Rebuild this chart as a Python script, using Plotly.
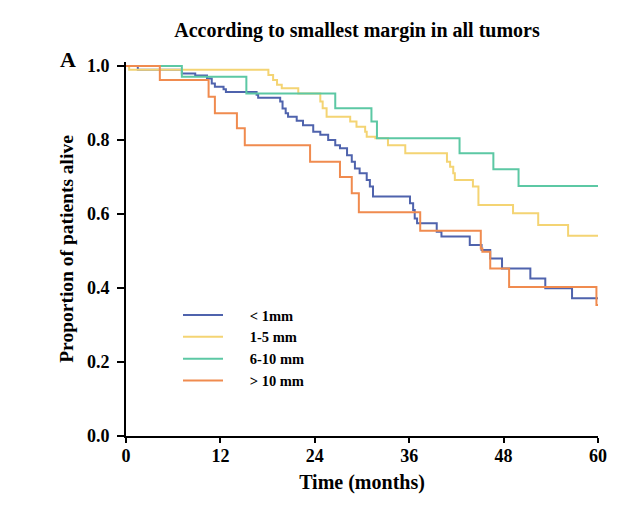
import plotly.graph_objects as go

# ---- data ----
lt1_t = [0, 1.5, 7.1, 8.8, 10.3, 10.9, 11.3, 12.4, 12.7, 16.6, 16.8, 19.6, 19.9, 20.3, 20.6,
         21.7, 22.5, 23.8, 24.7, 25.7, 26.6, 27.2, 28.1, 28.7, 29.1, 29.7, 30.6, 31.0, 31.4,
         36.1, 36.5, 36.7, 37.0, 39.5, 40.1, 43.7, 45.2, 46.3, 47.8, 51.4, 53.3, 56.7, 60]
lt1_s = [1.0, 0.99, 0.98, 0.974, 0.966, 0.953, 0.944, 0.937, 0.93, 0.922, 0.914, 0.904, 0.885, 0.872, 0.863,
         0.852, 0.84, 0.822, 0.814, 0.80, 0.786, 0.778, 0.759, 0.741, 0.723, 0.71, 0.692, 0.674, 0.647,
         0.629, 0.611, 0.588, 0.575, 0.552, 0.539, 0.516, 0.503, 0.48, 0.453, 0.426, 0.399, 0.372, 0.372]

m15_t = [0, 0.4, 18.1, 18.7, 19.2, 19.8, 21.9, 24.7, 25.0, 25.5, 28.5, 29.3, 30.4, 30.6, 31.7,
         33.3, 35.5, 40.8, 41.2, 41.6, 41.8, 44.1, 44.8, 49.2, 52.4, 56.2, 60]
m15_s = [1.0, 0.99, 0.976, 0.962, 0.949, 0.94, 0.926, 0.904, 0.886, 0.863, 0.85, 0.836, 0.822, 0.809, 0.805,
         0.786, 0.764, 0.741, 0.728, 0.71, 0.692, 0.674, 0.624, 0.602, 0.57, 0.541, 0.541]

m610_t = [0, 7.1, 15.3, 26.6, 31.2, 31.9, 42.4, 46.7, 49.9, 60]
m610_s = [1.0, 0.971, 0.926, 0.886, 0.85, 0.805, 0.764, 0.721, 0.676, 0.676]

gt10_t = [0, 4.3, 10.5, 11.3, 14.1, 15.1, 23.4, 27.2, 28.7, 29.6, 37.4, 45.1, 45.3, 46.3, 48.7, 59.8, 60]
gt10_s = [1.0, 0.962, 0.917, 0.872, 0.832, 0.786, 0.741, 0.70, 0.656, 0.605, 0.555, 0.507, 0.498, 0.453, 0.403, 0.354, 0.354]

series_names = ["< 1mm", "1-5 mm", "6-10 mm", "> 10 mm"]
series_colors = ["#4f63ad", "#f4d473", "#5cc8a4", "#f08b4f"]

x_ticks = [0, 12, 24, 36, 48, 60]
y_ticks = [0.0, 0.2, 0.4, 0.6, 0.8, 1.0]
y_ticklabels = ["0.0", "0.2", "0.4", "0.6", "0.8", "1.0"]

FONT = "Liberation Serif, Times New Roman, serif"
PAD = "\u00a0" * 6  # spacing between legend line sample and its label

fig = go.Figure()
for t, s, name, col in zip([lt1_t, m15_t, m610_t, gt10_t],
                           [lt1_s, m15_s, m610_s, gt10_s],
                           series_names, series_colors):
    fig.add_trace(go.Scatter(x=t, y=s, mode="lines", name=PAD + name,
                             line=dict(color=col, width=2, shape="hv")))

# page has an 8px body margin: figure occupies page pixels 8..640 x 8..513
OFF = 8
W, H = 640 - OFF, 513 - OFF
ml, mr, mt = 126 - OFF, 42, 62 - OFF
ph = 374
mb = H - mt - ph
pw = W - ml - mr
ytop = ph / 370.0


def px_x(page_x):
    return (page_x - 126) / pw


def px_y(page_y):
    return 1 - (page_y - 62) / ph


fig.update_layout(
    width=W, height=H,
    margin=dict(l=ml, r=mr, t=mt, b=mb, autoexpand=False),
    paper_bgcolor="white", plot_bgcolor="white",
    font=dict(family=FONT, color="black"),
    title=dict(text="According to smallest margin in all tumors",
               font=dict(family=FONT, size=20, weight="bold", color="black"),
               x=(357 - OFF) / W, xanchor="center", y=1 - (30 - OFF) / H, yanchor="middle"),
    showlegend=True,
    legend=dict(x=px_x(178), y=px_y(299), xanchor="left", yanchor="top",
                font=dict(family=FONT, size=14.5, weight="bold", color="black"),
                bgcolor="rgba(0,0,0,0)", itemwidth=40, tracegroupgap=0),
    xaxis=dict(range=[0, 60], tickvals=x_ticks, ticktext=[str(v) for v in x_ticks],
               showgrid=False, zeroline=False, showline=True, linecolor="black", linewidth=2,
               ticks="outside", ticklen=5, tickwidth=2, tickcolor="black", ticklabelstandoff=-3,
               tickfont=dict(family=FONT, size=18, weight="bold", color="black"),
               title=dict(text="Time (months)", standoff=10,
                          font=dict(family=FONT, size=20, weight="bold", color="black"))),
    yaxis=dict(range=[0, ytop], tickvals=y_ticks, ticktext=y_ticklabels,
               showgrid=False, zeroline=False, showline=True, linecolor="black", linewidth=2,
               ticks="outside", ticklen=7, tickwidth=2, tickcolor="black", ticklabelstandoff=4,
               tickfont=dict(family=FONT, size=18, weight="bold", color="black"),
               title=dict(text="Proportion of patients alive", standoff=8,
                          font=dict(family=FONT, size=19.5, weight="bold", color="black"))),
    annotations=[dict(text="A", x=px_x(68), y=px_y(60), xref="paper", yref="paper",
                      xanchor="center", yanchor="middle", showarrow=False,
                      font=dict(family=FONT, size=22, weight="bold", color="black"))],
)

fig.write_html("out.html")
